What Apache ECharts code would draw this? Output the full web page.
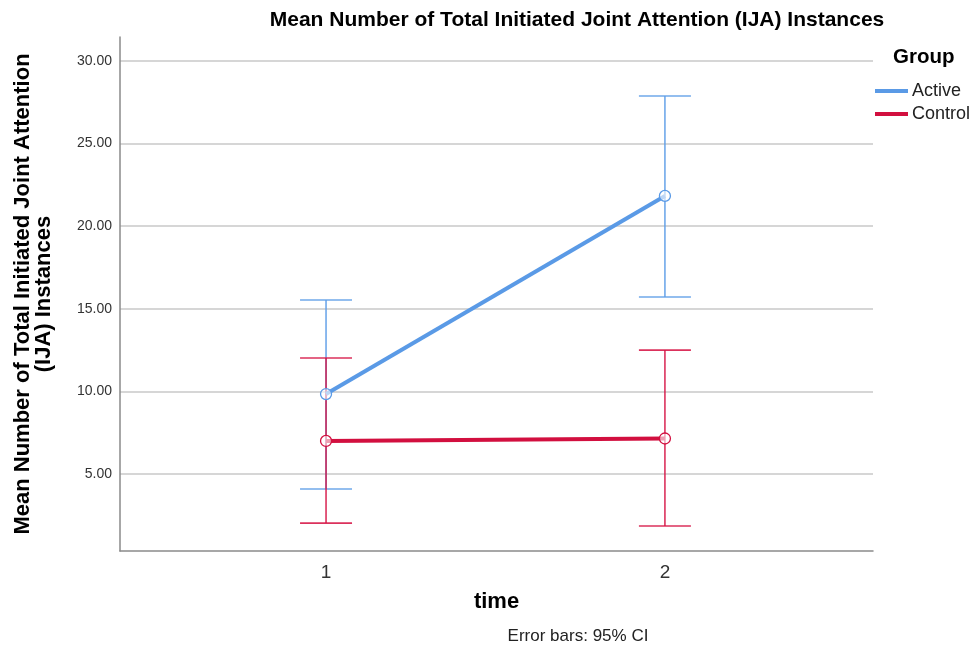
<!DOCTYPE html>
<html>
<head>
<meta charset="utf-8">
<script src="https://cdn.jsdelivr.net/npm/echarts@6/dist/echarts.min.js"></script>
<style>html,body{margin:0;padding:0;background:#fff;}#chart{width:971px;height:648px;}</style>
</head>
<body>
<div id="chart"></div>
<script>
const times = [1, 2];
const groups = ['Active', 'Control'];
const activeMean = [9.84, 21.83];
const activeLow = [4.09, 15.71];
const activeHigh = [15.53, 27.88];
const controlMean = [7.0, 7.15];
const controlLow = [2.03, 1.85];
const controlHigh = [12.02, 12.5];
const yTicks = [5, 10, 15, 20, 25, 30];

const FONT = 'Liberation Sans, Arial, sans-serif';
const colors = { Active: '#5a9ae6', Control: '#d20f3f' };
const barColors = { Active: 'rgba(95,158,232,0.9)', Control: 'rgba(214,20,70,0.88)' };

function errData(mean, low, high) {
  return times.map((t, i) => [t, mean[i], low[i], high[i]]);
}
function errSeries(name, mean, low, high) {
  return {
    type: 'custom',
    name: name + ' CI',
    data: errData(mean, low, high),
    z: 2,
    silent: true,
    renderItem: function (params, api) {
      const x = api.value(0);
      const lo = api.coord([x, api.value(2)]);
      const hi = api.coord([x, api.value(3)]);
      const hw = 26;
      const style = { stroke: barColors[name], lineWidth: 1.6, fill: 'none' };
      return {
        type: 'group',
        children: [
          { type: 'line', shape: { x1: lo[0], y1: lo[1], x2: hi[0], y2: hi[1] }, style: style },
          { type: 'line', shape: { x1: lo[0] - hw, y1: lo[1], x2: lo[0] + hw, y2: lo[1] }, style: style },
          { type: 'line', shape: { x1: hi[0] - hw, y1: hi[1], x2: hi[0] + hw, y2: hi[1] }, style: style }
        ]
      };
    }
  };
}
function lineSeries(name, mean) {
  return {
    type: 'line',
    name: name,
    data: times.map((t, i) => [t, mean[i]]),
    z: 3,
    symbol: 'circle',
    symbolSize: 11,
    showAllSymbol: true,
    lineStyle: { color: colors[name], width: 4 },
    itemStyle: { color: 'rgba(255,255,255,0.6)', borderColor: colors[name], borderWidth: 1.3 },
    color: colors[name]
  };
}

const chart = echarts.init(document.getElementById('chart'), null, { renderer: 'canvas' });
chart.setOption({
  animation: false,
  backgroundColor: '#fff',
  title: [
    { text: 'Mean Number of Total Initiated Joint Attention (IJA) Instances', left: 577, top: 10, textAlign: 'center', padding: 0,
      textStyle: { fontFamily: FONT, fontSize: 21, fontWeight: 'bold', color: '#000' } },
    { text: 'Group', left: 893, top: 47, padding: 0,
      textStyle: { fontFamily: FONT, fontSize: 20.5, fontWeight: 'bold', color: '#000' } },
    { text: 'Error bars: 95% CI', left: 578, top: 628, textAlign: 'center', padding: 0,
      textStyle: { fontFamily: FONT, fontSize: 17, fontWeight: 'normal', color: '#222' } }
  ],
  legend: {
    data: [
      { name: 'Active', icon: 'rect', itemStyle: { color: colors.Active, borderWidth: 0 } },
      { name: 'Control', icon: 'rect', itemStyle: { color: colors.Control, borderWidth: 0 } }
    ],
    orient: 'vertical', left: 875, top: 82, padding: 0, itemWidth: 33, itemHeight: 4, itemGap: 5,
    textStyle: { fontFamily: FONT, fontSize: 18, color: '#222', padding: [0, 0, 0, -1] },
    selectedMode: false
  },
  grid: { left: 120, right: 98, top: 37, bottom: 97, containLabel: false, outerBoundsMode: 'none' },
  xAxis: {
    type: 'value', min: 0.392, max: 2.614,
    name: 'time', nameLocation: 'middle', nameGap: 40,
    nameTextStyle: { fontFamily: FONT, fontSize: 22, fontWeight: 'bold', color: '#000' },
    axisLine: { show: true, lineStyle: { color: '#8a8a8a', width: 1.5 } },
    axisTick: { show: false, customValues: times },
    axisLabel: { customValues: times, margin: 12, fontFamily: FONT, fontSize: 19, color: '#333',
      formatter: v => String(v) },
    splitLine: { show: false }
  },
  yAxis: {
    type: 'value', min: 0.34, max: 31.45,
    name: 'Mean Number of Total Initiated Joint Attention\n(IJA) Instances', nameLocation: 'middle', nameGap: 66,
    nameTextStyle: { fontFamily: FONT, fontSize: 22, fontWeight: 'bold', color: '#000', lineHeight: 21 },
    axisLine: { show: true, lineStyle: { color: '#8a8a8a', width: 1.5 } },
    axisTick: { show: false, customValues: yTicks },
    axisLabel: { customValues: yTicks, margin: 8, fontFamily: FONT, fontSize: 14, color: '#333',
      formatter: v => v.toFixed(2) },
    splitLine: { show: true, lineStyle: { color: '#c8c8c8', width: 1.5 } }
  },
  series: [
    errSeries('Active', activeMean, activeLow, activeHigh),
    errSeries('Control', controlMean, controlLow, controlHigh),
    lineSeries('Active', activeMean),
    lineSeries('Control', controlMean)
  ]
});
</script>
</body>
</html>
